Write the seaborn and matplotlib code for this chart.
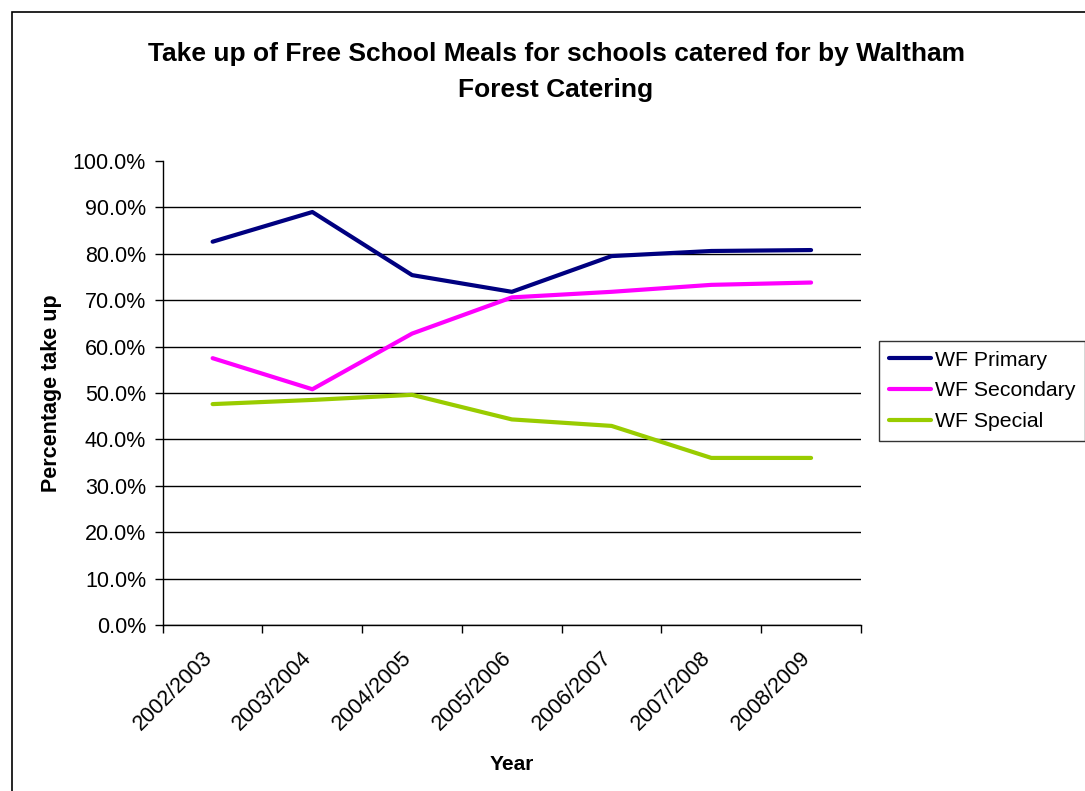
import numpy as np
import pandas as pd
import matplotlib
matplotlib.use("Agg")
import matplotlib.pyplot as plt
import matplotlib.patches as patches
import matplotlib.transforms as mtransforms
import seaborn as sns
from matplotlib.ticker import FixedLocator, PercentFormatter

years = ['2002/2003', '2003/2004', '2004/2005', '2005/2006',
         '2006/2007', '2007/2008', '2008/2009']
primary = [82.6, 89.0, 75.4, 71.8, 79.5, 80.6, 80.8]
secondary = [57.5, 50.8, 62.8, 70.6, 71.8, 73.3, 73.8]
special = [47.6, 48.5, 49.6, 44.3, 42.9, 36.0, 36.0]
series_names = ['WF Primary', 'WF Secondary', 'WF Special']
colors = ['#000080', '#FF00FF', '#99CC00']

df = pd.DataFrame({'Year': years, 'WF Primary': primary,
                   'WF Secondary': secondary, 'WF Special': special})
df['idx'] = np.arange(len(years))
long = df.melt(id_vars=['Year', 'idx'], value_vars=series_names,
               var_name='Series', value_name='Take up')

sns.set_style("white")
plt.rcParams['font.family'] = ['Liberation Sans', 'DejaVu Sans']
plt.rcParams['text.color'] = 'black'
plt.rcParams['axes.labelcolor'] = 'black'
plt.rcParams['xtick.color'] = 'black'
plt.rcParams['ytick.color'] = 'black'

fig = plt.figure(figsize=(10.85, 7.91), dpi=100)
ax = fig.add_axes([0.150, 0.2099, 0.6435, 0.5866])

sns.lineplot(data=long, x='idx', y='Take up', hue='Series',
             palette=dict(zip(series_names, colors)), linewidth=3,
             ax=ax, legend=True)

ax.set_xlim(-0.5, len(years) - 0.5)
ax.set_ylim(0, 100)
ax.set_yticks(np.arange(0, 101, 10))
ax.yaxis.set_major_formatter(PercentFormatter(decimals=1))
ax.set_xticks(np.arange(len(years)))
ax.set_xticklabels(years, rotation=45, ha='right', rotation_mode='anchor')
ax.xaxis.set_minor_locator(FixedLocator(np.arange(-0.5, len(years), 1)))
ax.tick_params(axis='x', which='major', length=0, pad=16, labelsize=15.5)
ax.tick_params(axis='x', which='minor', length=6, width=1, direction='out',
               color='black', bottom=True)
ax.tick_params(axis='y', length=6, width=1, direction='out', color='black',
               left=True, labelsize=15.5, pad=6)
shift = mtransforms.ScaledTranslation(-11 / 100, 0, fig.dpi_scale_trans)
for lab in ax.get_xticklabels():
    lab.set_transform(lab.get_transform() + shift)

ax.yaxis.grid(True, color='black', linewidth=1)
ax.yaxis.get_gridlines()[-1].set_visible(False)
ax.set_axisbelow(True)
for s in ['top', 'right']:
    ax.spines[s].set_visible(False)
for s in ['left', 'bottom']:
    ax.spines[s].set_color('black')
    ax.spines[s].set_linewidth(1)

ax.set_xlabel('Year', fontsize=15, fontweight='bold', labelpad=15)
ax.set_ylabel('Percentage take up', fontsize=15.5, fontweight='bold', labelpad=8)

leg = ax.legend(loc='upper left', bbox_to_anchor=(879 / 1085, 1 - 341 / 791),
                bbox_transform=fig.transFigure, fontsize=15.3, frameon=True,
                fancybox=False, handlelength=2.0, handletextpad=0.2,
                borderpad=0.45, labelspacing=0.55, borderaxespad=0)
leg.get_frame().set_edgecolor('black')
leg.get_frame().set_linewidth(1)

fig.text(556 / 1085, 1 - 72 / 791,
         'Take up of Free School Meals for schools catered for by Waltham\nForest Catering',
         ha='center', va='center', fontsize=19, fontweight='bold',
         multialignment='center', linespacing=1.6)

fig.patches.append(patches.Rectangle((12 / 1085, -0.01), 1.1, 1 - 12 / 791 + 0.01,
                                     transform=fig.transFigure, fill=False,
                                     edgecolor='black', linewidth=1.2))

fig.savefig('out.png', dpi=100)
